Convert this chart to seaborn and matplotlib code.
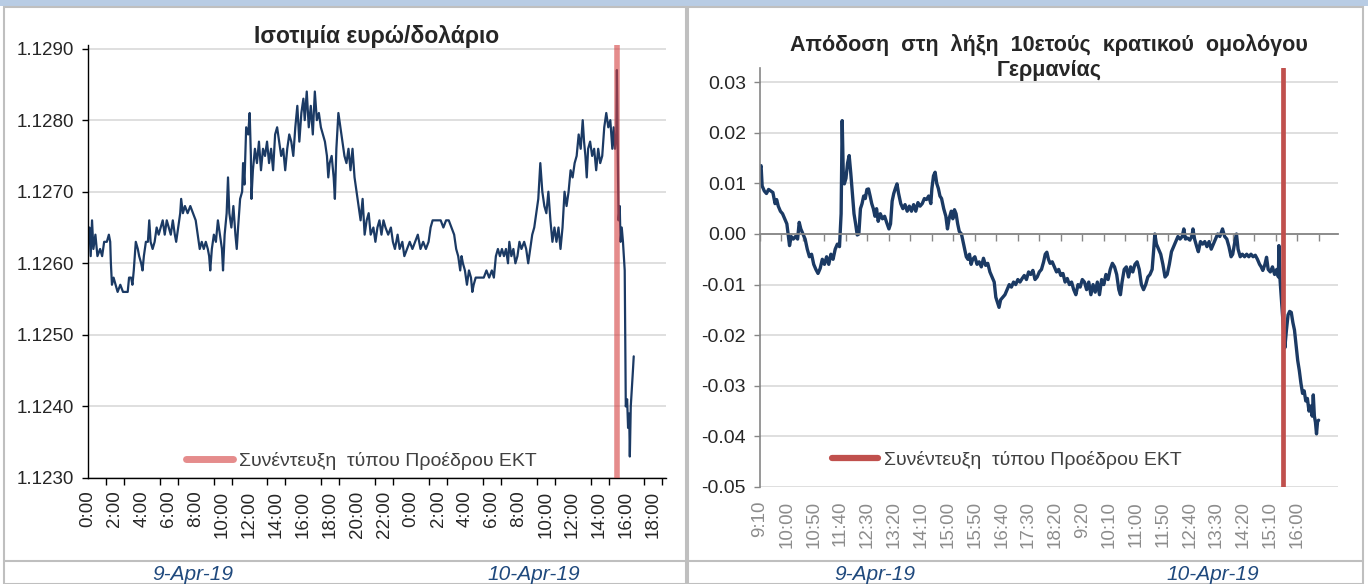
import numpy as np
import pandas as pd
import matplotlib
matplotlib.use("Agg")
import matplotlib.pyplot as plt
import seaborn as sns
from matplotlib.ticker import FixedLocator, MultipleLocator, FuncFormatter, NullLocator
from matplotlib.patches import Rectangle
from matplotlib.lines import Line2D

# ---------------- data ----------------
# EUR/USD, hours since 9-Apr-19 00:00
eur_hours = [
    0.00, 0.10, 0.20, 0.30, 0.40, 0.55, 0.70, 0.90, 1.05, 1.20, 1.40, 1.55, 1.65, 1.70, 1.78, 1.90,
    2.05, 2.20, 2.40, 2.60, 2.80, 2.95, 3.05, 3.20, 3.30, 3.40, 3.55, 3.70, 3.80, 3.95, 4.05, 4.15,
    4.30, 4.45, 4.55, 4.65, 4.80, 4.95, 5.10, 5.25, 5.40, 5.55, 5.70, 5.85, 6.00, 6.15, 6.30, 6.45,
    6.55, 6.70, 6.85, 6.92, 7.05, 7.20, 7.40, 7.60, 7.80, 8.00, 8.15, 8.30, 8.45, 8.60, 8.75, 8.90,
    9.00, 9.08, 9.20, 9.35, 9.50, 9.65, 9.80, 9.95, 10.03, 10.15, 10.30, 10.40, 10.50, 10.65, 10.80, 10.95,
    11.05, 11.15, 11.30, 11.45, 11.52, 11.62, 11.75, 11.90, 12.01, 12.10, 12.14, 12.25, 12.40, 12.55, 12.70, 12.85,
    13.00, 13.15, 13.30, 13.45, 13.60, 13.75, 13.90, 14.05, 14.20, 14.35, 14.50, 14.65, 14.80, 14.95, 15.10, 15.25,
    15.40, 15.55, 15.70, 15.85, 16.00, 16.10, 16.25, 16.40, 16.55, 16.70, 16.85, 17.00, 17.15, 17.30, 17.45, 17.60,
    17.75, 17.85, 17.95, 18.10, 18.25, 18.34, 18.45, 18.60, 18.75, 18.90, 19.05, 19.20, 19.35, 19.50, 19.65, 19.80,
    19.95, 20.10, 20.25, 20.40, 20.55, 20.70, 20.85, 21.00, 21.20, 21.35, 21.50, 21.65, 21.80, 21.95, 22.10, 22.30,
    22.50, 22.65, 22.80, 23.00, 23.15, 23.35, 23.50, 23.70, 23.90, 24.10, 24.30, 24.50, 24.70, 24.90, 25.10, 25.30,
    25.45, 25.60, 25.80, 26.00, 26.20, 26.40, 26.60, 26.80, 27.00, 27.20, 27.35, 27.50, 27.65, 27.75, 27.85, 28.00,
    28.15, 28.30, 28.45, 28.55, 28.65, 28.80, 29.00, 29.20, 29.40, 29.60, 29.80, 30.00, 30.15, 30.30, 30.45, 30.60,
    30.75, 30.90, 31.05, 31.20, 31.30, 31.45, 31.60, 31.75, 31.90, 32.05, 32.20, 32.40, 32.55, 32.70, 32.85, 33.00,
    33.15, 33.30, 33.45, 33.60, 33.75, 33.90, 34.05, 34.20, 34.35, 34.50, 34.65, 34.80, 34.95, 35.10, 35.25, 35.40,
    35.55, 35.70, 35.85, 36.00, 36.15, 36.30, 36.45, 36.60, 36.75, 36.85, 36.95, 37.05, 37.15, 37.30, 37.45, 37.60,
    37.75, 37.90, 38.05, 38.20, 38.35, 38.50, 38.65, 38.80, 38.95, 39.05, 39.15, 39.25, 39.29, 39.35, 39.41, 39.50,
    39.56, 39.65, 39.74, 39.87, 39.95, 40.05, 40.12, 40.20, 40.25, 40.32, 40.42, 40.48, 40.54,
]
eur_values = [
    1.1263, 1.1265, 1.1261, 1.1266, 1.1262, 1.1264, 1.1261, 1.1262, 1.1261, 1.1263, 1.1263, 1.1264, 1.1263, 1.1260, 1.1257, 1.1258,
    1.1257, 1.1256, 1.1257, 1.1256, 1.1256, 1.1256, 1.1258, 1.1258, 1.1257, 1.1259, 1.1263, 1.1262, 1.1261, 1.1260, 1.1259, 1.1261,
    1.1263, 1.1263, 1.1266, 1.1263, 1.1262, 1.1263, 1.1265, 1.1264, 1.1265, 1.1266, 1.1264, 1.1266, 1.1265, 1.1264, 1.1266, 1.1264,
    1.1263, 1.1265, 1.1267, 1.1269, 1.1267, 1.1268, 1.1267, 1.1268, 1.1267, 1.1266, 1.1264, 1.1262, 1.1263, 1.1262, 1.1263, 1.1262,
    1.1261, 1.1259, 1.1262, 1.1264, 1.1263, 1.1266, 1.1264, 1.1262, 1.1259, 1.1264, 1.1267, 1.1272, 1.1267, 1.1265, 1.1268, 1.1264,
    1.1262, 1.1265, 1.1269, 1.1270, 1.1274, 1.1271, 1.1279, 1.1278, 1.1281, 1.1275, 1.1269, 1.1273, 1.1276, 1.1274, 1.1277, 1.1273,
    1.1276, 1.1275, 1.1277, 1.1274, 1.1276, 1.1273, 1.1278, 1.1279, 1.1277, 1.1275, 1.1276, 1.1273, 1.1276, 1.1278, 1.1277, 1.1275,
    1.1279, 1.1282, 1.1277, 1.1281, 1.1283, 1.1280, 1.1284, 1.1279, 1.1282, 1.1278, 1.1284, 1.1280, 1.1281, 1.1279, 1.1278, 1.1277,
    1.1275, 1.1272, 1.1274, 1.1275, 1.1272, 1.1269, 1.1276, 1.1281, 1.1279, 1.1277, 1.1275, 1.1274, 1.1276, 1.1273, 1.1276, 1.1272,
    1.1270, 1.1268, 1.1266, 1.1269, 1.1264, 1.1266, 1.1267, 1.1264, 1.1265, 1.1263, 1.1265, 1.1266, 1.1264, 1.1266, 1.1265, 1.1264,
    1.1265, 1.1263, 1.1262, 1.1264, 1.1262, 1.1263, 1.1261, 1.1262, 1.1263, 1.1262, 1.1263, 1.1264, 1.1262, 1.1263, 1.1262, 1.1263,
    1.1265, 1.1266, 1.1266, 1.1266, 1.1266, 1.1265, 1.1266, 1.1266, 1.1265, 1.1264, 1.1262, 1.1261, 1.1259, 1.1261, 1.1260, 1.1259,
    1.1257, 1.1259, 1.1258, 1.1256, 1.1257, 1.1258, 1.1258, 1.1258, 1.1258, 1.1259, 1.1258, 1.1259, 1.1258, 1.1261, 1.1262, 1.1261,
    1.1262, 1.1261, 1.1262, 1.1260, 1.1263, 1.1261, 1.1262, 1.1260, 1.1261, 1.1263, 1.1262, 1.1263, 1.1262, 1.1260, 1.1262, 1.1264,
    1.1265, 1.1267, 1.1269, 1.1274, 1.1270, 1.1268, 1.1267, 1.1270, 1.1266, 1.1263, 1.1265, 1.1263, 1.1265, 1.1262, 1.1265, 1.1270,
    1.1268, 1.1270, 1.1273, 1.1272, 1.1274, 1.1275, 1.1278, 1.1276, 1.1280, 1.1277, 1.1275, 1.1272, 1.1276, 1.1277, 1.1275, 1.1276,
    1.1273, 1.1276, 1.1274, 1.1275, 1.1279, 1.1281, 1.1279, 1.1280, 1.1276, 1.1279, 1.1276, 1.1278, 1.1287, 1.1276, 1.1266, 1.1268,
    1.1263, 1.1265, 1.1263, 1.1259, 1.1240, 1.1241, 1.1237, 1.1239, 1.1233, 1.1240, 1.1243, 1.1245, 1.1247,
]
eur_tick_hours = list(range(0, 43, 2))
eur_tick_labels = ["0:00", "2:00", "4:00", "6:00", "8:00", "10:00", "12:00", "14:00", "16:00", "18:00",
                   "20:00", "22:00", "0:00", "2:00", "4:00", "6:00", "8:00", "10:00", "12:00", "14:00",
                   "16:00", "18:00"]
eur_yticks = [1.1230, 1.1240, 1.1250, 1.1260, 1.1270, 1.1280, 1.1290]
eur_press_hour = 39.3

# German 10y yield change, category index (minutes of trading)
bund_index = [
    0, 2, 4, 8, 12, 16, 20, 24, 28, 31, 34, 38, 42, 46, 50, 53, 55, 58, 62, 66, 70, 73, 76, 80,
    84, 88, 92, 96, 100, 104, 108, 112, 116, 120, 124, 128, 132, 136, 140, 144, 148, 151, 153, 155,
    157, 160, 163, 166, 169, 172, 175, 178, 181, 184, 187, 190, 193, 196, 199, 202, 205, 208, 211, 214,
    217, 220, 224, 228, 232, 236, 240, 243, 246, 249, 252, 255, 258, 262, 266, 270, 274, 278, 282, 286,
    290, 294, 298, 302, 306, 310, 314, 318, 320, 323, 326, 329, 332, 335, 338, 342, 346, 349, 352, 356,
    359, 362, 365, 368, 371, 375, 378, 381, 384, 387, 390, 393, 396, 400, 404, 408, 412, 416, 420, 424,
    428, 432, 436, 439, 442, 445, 448, 452, 456, 460, 464, 468, 472, 476, 480, 484, 488, 492, 496, 500,
    504, 508, 512, 516, 520, 524, 528, 531, 534, 537, 540, 544, 548, 552, 556, 560, 564, 568, 572, 576,
    580, 584, 588, 592, 596, 600, 604, 608, 612, 616, 620, 624, 628, 632, 636, 640, 644, 648, 652, 656,
    660, 664, 668, 671, 674, 678, 682, 686, 690, 694, 698, 702, 706, 710, 714, 718, 722, 726, 730, 733,
    735, 738, 742, 746, 750, 754, 758, 762, 766, 770, 774, 778, 782, 786, 789, 792, 796, 800, 804, 806,
    809, 813, 816, 820, 824, 828, 832, 836, 840, 844, 848, 852, 856, 861, 865, 869, 873, 877, 880, 884,
    887, 890, 894, 898, 902, 906, 910, 914, 918, 922, 926, 930, 933, 936, 940, 943, 946, 950, 954, 958,
    962, 965, 966, 968, 977, 980, 983, 986, 989, 992, 995, 998, 1001, 1004, 1007, 1010, 1013, 1016, 1019, 1022,
    1025, 1028, 1030, 1032, 1034, 1036, 1038, 1040,
]
bund_values = [
    0.0130, 0.0135, 0.0095, 0.0085, 0.0080, 0.0088, 0.0085, 0.0082, 0.0060, 0.0068, 0.0055, 0.0045, 0.0040, 0.0030, 0.0020, -0.0005,
    -0.0023, -0.0005, -0.0010, -0.0005, -0.0010, 0.0023, 0.0010, 0.0000,
    -0.0010, -0.0030, -0.0045, -0.0040, -0.0060, -0.0070, -0.0078, -0.0068, -0.0050, -0.0060, -0.0045, -0.0060, -0.0040, -0.0050, -0.0030, -0.0020,
    -0.0025, 0.0040, 0.0224, 0.0120,
    0.0099, 0.0110, 0.0140, 0.0155, 0.0120, 0.0080, 0.0040, 0.0020, -0.0002, 0.0000, 0.0050, 0.0060, 0.0075, 0.0070, 0.0088, 0.0089,
    0.0075, 0.0060, 0.0050, 0.0035,
    0.0050, 0.0025, 0.0040, 0.0030, 0.0035, 0.0022, 0.0010, 0.0020, 0.0065, 0.0080, 0.0090, 0.0099, 0.0080, 0.0060, 0.0050, 0.0058,
    0.0045, 0.0055, 0.0045, 0.0058,
    0.0045, 0.0062, 0.0055, 0.0060, 0.0070, 0.0068, 0.0075, 0.0060, 0.0090, 0.0115, 0.0122, 0.0100, 0.0090, 0.0075, 0.0070, 0.0050,
    0.0035, 0.0010, 0.0030, 0.0045,
    0.0030, 0.0048, 0.0040, 0.0020, 0.0005, 0.0000, -0.0015, -0.0030, -0.0045, -0.0050, -0.0040, -0.0060, -0.0050, -0.0045, -0.0060, -0.0055,
    -0.0065, -0.0048, -0.0062, -0.0058,
    -0.0075, -0.0085, -0.0095, -0.0125, -0.0135, -0.0145, -0.0130, -0.0125, -0.0120, -0.0110, -0.0100, -0.0105, -0.0095, -0.0100, -0.0090, -0.0095,
    -0.0088, -0.0082, -0.0090, -0.0075,
    -0.0080, -0.0072, -0.0090, -0.0085, -0.0075, -0.0070, -0.0055, -0.0040, -0.0036, -0.0050, -0.0058, -0.0055, -0.0065, -0.0075, -0.0070, -0.0082,
    -0.0078, -0.0095, -0.0088, -0.0100,
    -0.0095, -0.0110, -0.0120, -0.0100, -0.0105, -0.0090, -0.0095, -0.0110, -0.0095, -0.0120, -0.0100, -0.0115, -0.0095, -0.0120, -0.0090, -0.0100,
    -0.0080, -0.0090, -0.0070, -0.0058,
    -0.0065, -0.0080, -0.0110, -0.0120, -0.0095, -0.0070, -0.0065, -0.0085, -0.0065, -0.0075, -0.0060, -0.0055, -0.0070, -0.0100, -0.0110, -0.0100,
    -0.0085, -0.0080, -0.0070, -0.0030,
    0.0000, -0.0020, -0.0030, -0.0040, -0.0060, -0.0085, -0.0080, -0.0060, -0.0035, -0.0025, -0.0015, -0.0005, -0.0010, -0.0005, 0.0010, -0.0010,
    -0.0008, -0.0012, -0.0005, 0.0010,
    -0.0010, -0.0025, -0.0035, -0.0015, -0.0020, -0.0015, -0.0025, -0.0015, -0.0030, -0.0020, -0.0010, 0.0000, -0.0005, 0.0010, -0.0005, -0.0010,
    -0.0025, -0.0045, -0.0040, -0.0015,
    0.0000, -0.0030, -0.0045, -0.0040, -0.0045, -0.0040, -0.0045, -0.0040, -0.0045, -0.0042, -0.0050, -0.0060, -0.0065, -0.0072, -0.0060, -0.0046,
    -0.0070, -0.0075, -0.0065, -0.0080,
    -0.0070, -0.0085, -0.0023, -0.0089, -0.0225, -0.0190, -0.0160, -0.0153, -0.0155, -0.0175, -0.0190, -0.0220, -0.0250, -0.0270, -0.0295, -0.0315,
    -0.0310, -0.0330, -0.0325, -0.0350,
    -0.0340, -0.0360, -0.0318, -0.0360, -0.0372, -0.0395, -0.0370, -0.0368,
]
bund_tick_index = list(range(0, 1001, 50))
bund_tick_labels = ["9:10", "10:00", "10:50", "11:40", "12:30", "13:20", "14:10", "15:00", "15:50", "16:40",
                    "17:30", "18:20", "9:20", "10:10", "11:00", "11:50", "12:40", "13:30", "14:20", "15:10",
                    "16:00"]
bund_yticks = [-0.05, -0.04, -0.03, -0.02, -0.01, 0.0, 0.01, 0.02, 0.03]
bund_press_index = 973

legend_label = "Συνέντευξη  τύπου Προέδρου ΕΚΤ"
title_left = "Ισοτιμία ευρώ/δολάριο"
title_right = "Απόδοση  στη  λήξη  10ετούς  κρατικού  ομολόγου\nΓερμανίας"
date_labels = ["9-Apr-19", "10-Apr-19"]

# ---------------- style ----------------
sns.set_theme(style="white")
plt.rcParams["font.family"] = ["Liberation Sans", "DejaVu Sans"]

W, H = 1368, 584
NAVY = "#1b3a64"
TXT = "#262626"
GRID = "#d9d9d9"
BORDER = "#bfbfbf"

fig = plt.figure(figsize=(W / 100, H / 100), dpi=100)
fig.patch.set_facecolor("white")


def fx(px):
    return px / W


def fy(py):
    return 1 - py / H


# decorations: top band, panel borders, date row
fig.patches.append(Rectangle((0, fy(6)), 1, 6 / H, transform=fig.transFigure,
                             facecolor="#b8cce4", edgecolor="none", zorder=0))
for x0, x1 in [(4, 686), (688, 1363)]:
    fig.patches.append(Rectangle((fx(x0), 0), fx(x1 - x0), fy(7), transform=fig.transFigure,
                                 facecolor="none", edgecolor=BORDER, lw=1.5, zorder=1))
fig.add_artist(Line2D([fx(4), fx(1363)], [fy(561), fy(561)], transform=fig.transFigure,
                      color=BORDER, lw=1.5))
for xc, lab in zip([193, 534, 875, 1213], date_labels * 2):
    fig.text(fx(xc), fy(575), lab, ha="center", va="center", fontsize=15,
             style="italic", color="#1f497d")

# ---------------- left chart ----------------
axL = fig.add_axes([fx(88), fy(478), fx(577.5), 433 / H])
dfL = pd.DataFrame({"hour": eur_hours, "value": eur_values})
sns.lineplot(data=dfL, x="hour", y="value", ax=axL, color=NAVY, lw=1.6,
             estimator=None, sort=False, legend=False)
red_left = (212 / 255, 63 / 255, 63 / 255)
axL.axvline(eur_press_hour, color=red_left, alpha=0.6, lw=4, zorder=5)
axL.set_xlim(0, 42.9)
axL.set_ylim(1.1230, 1.12905)
axL.yaxis.set_major_locator(FixedLocator(eur_yticks))
axL.yaxis.set_major_formatter(FuncFormatter(lambda v, p: f"{v:.4f}"))
axL.set_xticks(eur_tick_hours)
axL.set_xticklabels(eur_tick_labels, rotation=90)
axL.xaxis.set_minor_locator(MultipleLocator(4 / 3))
axL.tick_params(axis="x", which="major", length=0, pad=9, labelsize=13.5, labelcolor=TXT)
axL.tick_params(axis="x", which="minor", bottom=True, length=5, width=1, color="black", direction="out")
axL.tick_params(axis="y", which="major", left=True, length=4, width=1, color="black",
                direction="out", labelsize=13.5, labelcolor=TXT, pad=6)
axL.yaxis.grid(True, color=GRID, lw=1.2)
axL.xaxis.grid(False)
for s in ["top", "right"]:
    axL.spines[s].set_visible(False)
for s in ["left", "bottom"]:
    axL.spines[s].set_color("black")
    axL.spines[s].set_linewidth(1.0)
axL.set_xlabel("")
axL.set_ylabel("")
axL.text(0.5, 1.0185, title_left, transform=axL.transAxes, ha="center", va="center",
         fontsize=16.5, fontweight="bold", color=TXT)
axL.legend(handles=[Line2D([0], [0], color=red_left, alpha=0.6, lw=5)], labels=[legend_label],
           loc="center", bbox_to_anchor=(0.473, 0.04), frameon=False, fontsize=14,
           handlelength=2.4, handletextpad=0.3, labelcolor="#404040")

# ---------------- right chart ----------------
axR = fig.add_axes([fx(760), fy(487), fx(578), 419 / H])
dfR = pd.DataFrame({"idx": bund_index, "value": bund_values})
sns.lineplot(data=dfR, x="idx", y="value", ax=axR, color=NAVY, lw=2.4,
             estimator=None, sort=False, legend=False)
axR.axvline(bund_press_index, color="#c0504d", lw=3.4, zorder=5)
axR.set_xlim(0, 1076)
axR.set_ylim(-0.05, 0.0328)
axR.yaxis.set_major_locator(FixedLocator(bund_yticks))
axR.yaxis.set_major_formatter(FuncFormatter(lambda v, p: f"{v:.2f}"))
axR.yaxis.grid(True, color=GRID, lw=1.2)
axR.xaxis.grid(False)
axR.spines["bottom"].set_position(("data", 0))
axR.spines["bottom"].set_color("#868686")
axR.spines["bottom"].set_linewidth(1.3)
axR.spines["left"].set_color("#868686")
axR.spines["left"].set_linewidth(1.2)
for s in ["top", "right"]:
    axR.spines[s].set_visible(False)
axR.xaxis.set_major_locator(NullLocator())
axR.xaxis.set_minor_locator(MultipleLocator(40))
axR.tick_params(axis="x", which="minor", bottom=True, length=5, width=1, color="#868686", direction="out")
axR.tick_params(axis="y", which="major", left=True, length=4, width=1, color="#868686",
                direction="out", labelsize=14, labelcolor=TXT, pad=6)
axR.set_xlabel("")
axR.set_ylabel("")
sec = axR.secondary_xaxis("bottom")
sec.set_xticks(bund_tick_index)
sec.set_xticklabels(bund_tick_labels, rotation=90)
sec.tick_params(axis="x", length=0, pad=10, labelsize=13.5, labelcolor="#8c8c8c")
sec.spines["bottom"].set_visible(False)
axR.text(0.5, 1.025, title_right, transform=axR.transAxes, ha="center", va="center",
         fontsize=15.5, fontweight="bold", color=TXT, linespacing=1.3)
axR.legend(handles=[Line2D([0], [0], color="#c0504d", lw=4.5)], labels=[legend_label],
           loc="center", bbox_to_anchor=(0.427, 0.064), frameon=False, fontsize=14,
           handlelength=2.4, handletextpad=0.3, labelcolor="#404040")

fig.savefig("out.png", dpi=100, facecolor="white")
